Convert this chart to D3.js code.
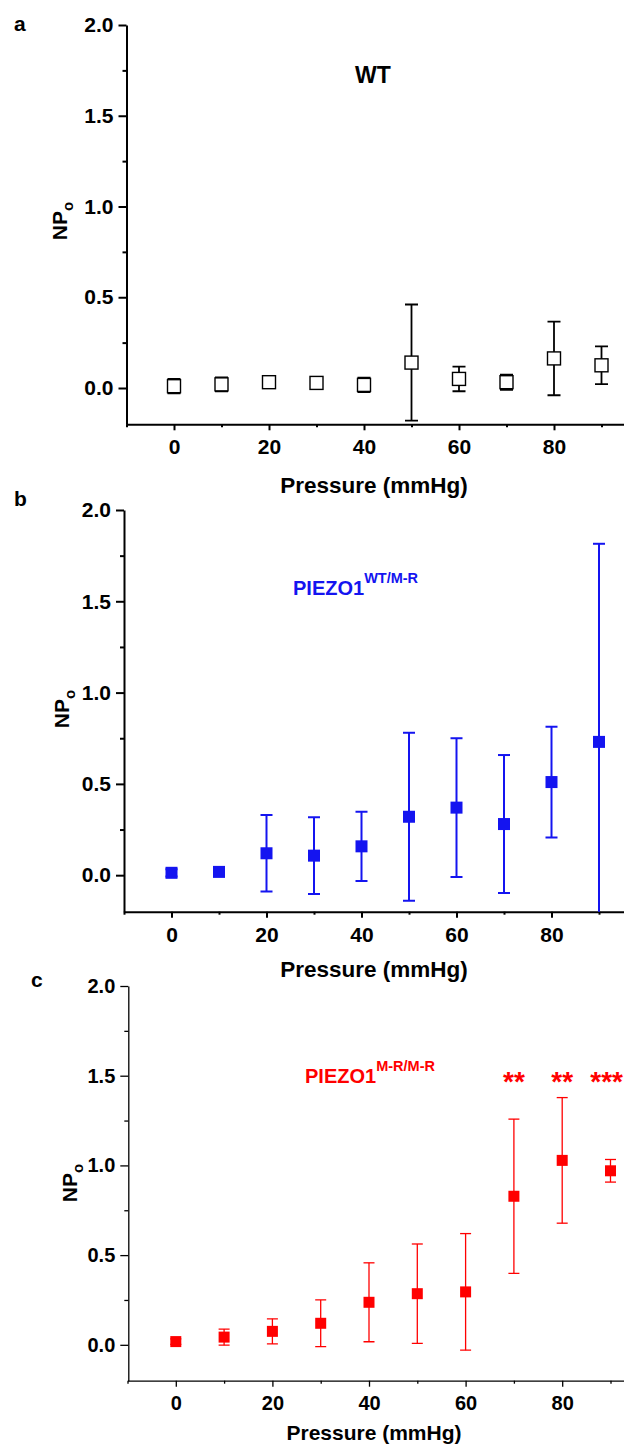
<!DOCTYPE html>
<html>
<head>
<meta charset="utf-8">
<script src="https://cdn.jsdelivr.net/npm/d3@7"></script>
<style>
  body { margin: 0; background: #fff; }
  svg { display: block; }
  text { font-family: Arial, "Liberation Sans", sans-serif; font-weight: bold; }
</style>
</head>
<body>
<script>
// values
var pressure = [0, 10, 20, 30, 40, 50, 60, 70, 80, 90]
var wtMean = [0.01, 0.02, 0.032, 0.028, 0.017, 0.14, 0.05, 0.032, 0.163, 0.125]
var wtErr = [0.04, 0.038, 0.02, 0.012, 0.04, 0.32, 0.068, 0.042, 0.203, 0.104]
var hetMean = [0.013, 0.018, 0.12, 0.107, 0.158, 0.32, 0.37, 0.28, 0.51, 0.73]
var hetErr = [0.02, 0.015, 0.21, 0.21, 0.19, 0.46, 0.38, 0.378, 0.303, 1.085]
var homMean = [0.018, 0.043, 0.075, 0.12, 0.237, 0.285, 0.295, 0.828, 1.028, 0.97]
var homErr = [0.015, 0.045, 0.07, 0.13, 0.22, 0.277, 0.325, 0.43, 0.35, 0.063]
var homStars = ['', '', '', '', '', '', '', '**', '**', '***']

var yMajor = [0, 0.5, 1, 1.5, 2]
var yMinor = [0.25, 0.75, 1.25, 1.75]
var xMajor = [0, 20, 40, 60, 80]
var xMinor = [-10, 10, 30, 50, 70, 90]

var W = 624, H = 1448
var svg = d3.select('body').append('svg').attr('width', W).attr('height', H)

var panels = [
  { letter: 'a', lx: 14, ly: 31, left: 126.5, x0: 126.5, xPer: 4.75, top: 25, bottom: 424.3,
    mean: wtMean, err: wtErr, color: '#000', filled: false, axisW: 2, barW: 1.8, size: 13,
    tick: 21, title: 22.5, titleY: 493, npX: 67, npY: 221,
    label: 'WT', sup: '', labX: 355, labY: 83, labColor: '#000' },
  { letter: 'b', lx: 14, ly: 506, left: 124, x0: 124, xPer: 4.75, top: 510, bottom: 911.7,
    mean: hetMean, err: hetErr, color: '#1414f0', filled: true, axisW: 2, barW: 2, size: 12,
    tick: 21, title: 22.5, titleY: 977, npX: 69, npY: 709,
    label: 'PIEZO1', sup: 'WT/M-R', labX: 293, labY: 595, labColor: '#1414f0' },
  { letter: 'c', lx: 31, ly: 987, left: 128.3, x0: 127.5, xPer: 4.83, top: 986, bottom: 1380.7,
    mean: homMean, err: homErr, color: '#ff0000', filled: true, axisW: 1.3, barW: 1.3, size: 11,
    tick: 20, title: 21, titleY: 1440, npX: 77, npY: 1183,
    label: 'PIEZO1', sup: 'M-R/M-R', labX: 305, labY: 1083, labColor: '#ff0000', stars: homStars }
]

panels.forEach(function (p, pi) {
  var x = d3.scaleLinear().domain([-10, 100]).range([p.x0, p.x0 + 110 * p.xPer])
  var y = d3.scaleLinear().domain([-0.2, 2]).range([p.bottom, p.top])
  var g = svg.append('g')

  g.append('text').attr('x', p.lx).attr('y', p.ly).attr('font-size', 21).text(p.letter)

  // axes
  var ya = g.append('g').attr('transform', 'translate(' + p.left + ',0)')
    .call(d3.axisLeft(y).tickValues(yMajor).tickSize(8).tickSizeOuter(0).tickPadding(5)
      .tickFormat(d3.format('.1f')))
  g.append('g').attr('transform', 'translate(' + p.left + ',0)')
    .call(d3.axisLeft(y).tickValues(yMinor).tickSize(4).tickSizeOuter(0).tickFormat(''))
    .select('.domain').remove()
  var xa = g.append('g').attr('transform', 'translate(0,' + p.bottom + ')')
    .call(d3.axisBottom(x).tickValues(xMajor).tickSize(6).tickSizeOuter(0).tickPadding(9))
  g.append('g').attr('transform', 'translate(0,' + p.bottom + ')')
    .call(d3.axisBottom(x).tickValues(xMinor).tickSize(3).tickSizeOuter(0).tickFormat(''))
    .select('.domain').remove()
  g.selectAll('.domain, .tick line').attr('stroke', '#000').attr('stroke-width', p.axisW)
  ya.selectAll('text').attr('font-size', p.tick).attr('fill', '#000')
  xa.selectAll('text').attr('font-size', p.tick).attr('fill', '#000')

  g.append('text').attr('x', 374).attr('y', p.titleY).attr('text-anchor', 'middle')
    .attr('font-size', p.title).text('Pressure (mmHg)')

  var np = g.append('text')
    .attr('transform', 'translate(' + p.npX + ',' + p.npY + ') rotate(-90)')
    .attr('text-anchor', 'middle').attr('font-size', 21)
  np.append('tspan').text('NP')
  np.append('tspan').attr('dy', 6).attr('font-size', 15).text('o')

  var lab = g.append('text').attr('x', p.labX).attr('y', p.labY)
    .attr('font-size', p.sup ? 20 : 23).attr('fill', p.labColor)
  lab.append('tspan').text(p.label)
  if (p.sup) lab.append('tspan').attr('dy', -12).attr('font-size', 14.5).text(p.sup)

  // data
  var clipId = 'clip' + pi
  g.append('clipPath').attr('id', clipId).append('rect')
    .attr('x', p.left).attr('y', p.top - 20).attr('width', W).attr('height', p.bottom - p.top + 20)
  var data = pressure.map(function (d, i) { return { p: d, m: p.mean[i], e: p.err[i] } })
  var pts = g.append('g').attr('clip-path', 'url(#' + clipId + ')')
    .selectAll('g').data(data).enter().append('g')
  var hw = p.size / 2
  pts.append('line')
    .attr('x1', function (d) { return x(d.p) }).attr('x2', function (d) { return x(d.p) })
    .attr('y1', function (d) { return y(d.m + d.e) }).attr('y2', function (d) { return y(d.m - d.e) })
    .attr('stroke', p.color).attr('stroke-width', p.barW)
  ;[1, -1].forEach(function (s) {
    pts.append('line')
      .attr('x1', function (d) { return x(d.p) - hw }).attr('x2', function (d) { return x(d.p) + hw })
      .attr('y1', function (d) { return y(d.m + s * d.e) }).attr('y2', function (d) { return y(d.m + s * d.e) })
      .attr('stroke', p.color).attr('stroke-width', p.barW)
  })
  pts.append('rect')
    .attr('x', function (d) { return x(d.p) - hw }).attr('y', function (d) { return y(d.m) - hw })
    .attr('width', p.size).attr('height', p.size)
    .attr('fill', p.filled ? p.color : '#fff')
    .attr('stroke', p.color).attr('stroke-width', p.filled ? 0 : 1.4)

  if (p.stars) {
    g.selectAll('.star').data(data.filter(function (d, i) { return p.stars[i] }))
      .enter().append('text').attr('class', 'star')
      .attr('x', function (d) { return x(d.p) }).attr('y', 1091)
      .attr('text-anchor', 'middle').attr('font-size', 28).attr('fill', '#ff0000')
      .text(function (d) { return p.stars[pressure.indexOf(d.p)] })
      .each(function () {
        // keep the last group of stars inside the page
        var t = d3.select(this), w = this.getComputedTextLength()
        var cx = +t.attr('x')
        if (cx + w / 2 > W - 1) t.attr('x', W - 1 - w / 2)
      })
  }
})
</script>
</body>
</html>
